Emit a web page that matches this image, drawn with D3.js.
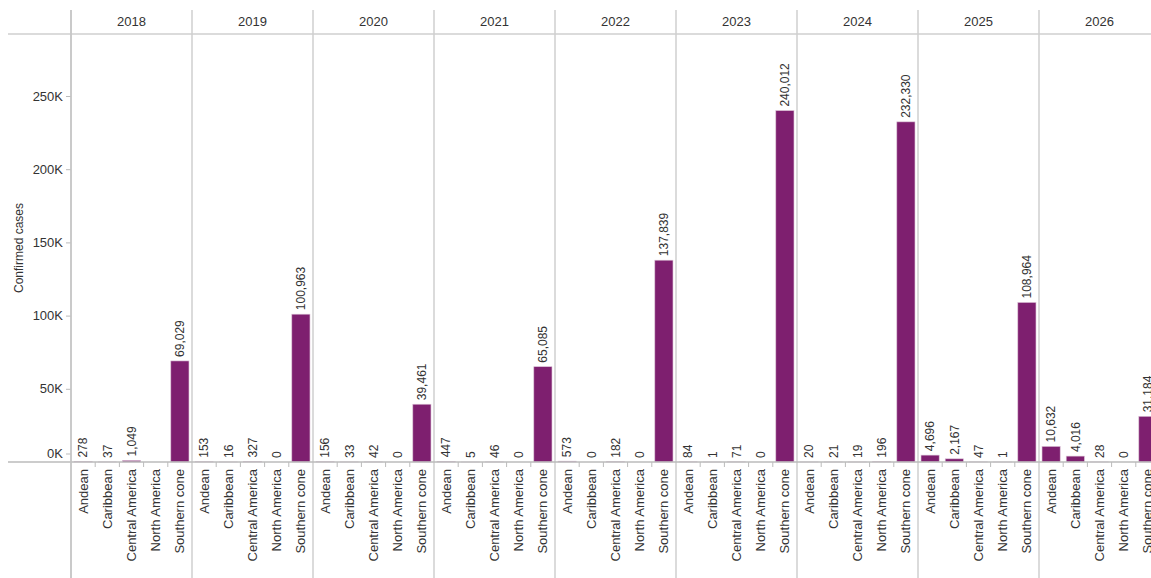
<!DOCTYPE html>
<html>
<head>
<meta charset="utf-8">
<script src="https://cdn.jsdelivr.net/npm/d3@7"></script>
<style>
  body { margin: 0; background: #fff; }
  text { font-family: Arial, "Liberation Sans", sans-serif; fill: #333; }
</style>
</head>
<body>
<script>
// chart data
var years = ["2018", "2019", "2020", "2021", "2022", "2023", "2024", "2025", "2026"];
var regions = ["Andean", "Caribbean", "Central America", "North America", "Southern cone"];

// one value per year, per region (null = no value shown)
var andean    = [278, 153, 156, 447, 573, 84, 20, 4696, 10632];
var caribbean = [37, 16, 33, 5, 0, 1, 21, 2167, 4016];
var central   = [1049, 327, 42, 46, 182, 71, 19, 47, 28];
var northAm   = [null, 0, 0, 0, 0, 0, 196, 1, 0];
var southern  = [69029, 100963, 39461, 65085, 137839, 240012, 232330, 108964, 31184];

var yTicks = [0, 50000, 100000, 150000, 200000, 250000];

var data = [];
years.forEach(function(yr, i) {
  [andean, caribbean, central, northAm, southern].forEach(function(s, j) {
    data.push({year: yr, region: regions[j], value: s[i]});
  });
});

var width = 1151, height = 578;
var headY = 34, base = 462;

var svg = d3.select("body").append("svg")
    .attr("width", width)
    .attr("height", height);

// scales
var x0 = d3.scaleBand().domain(years).range([71, 71 + 121 * years.length]).padding(0);
var x1 = d3.scaleBand().domain(regions).range([0, x0.bandwidth()]).paddingInner(0.25).paddingOuter(0.125);
var y = d3.scaleLinear().domain([0, 250000]).range([base, 96]);

var fmt = d3.format(",");

// grid / frame lines
svg.append("line")
    .attr("x1", 8).attr("x2", width).attr("y1", headY).attr("y2", headY)
    .style("stroke", "#cfcfcf").style("stroke-width", 1.5);

svg.selectAll(".divider")
    .data(years)
  .enter().append("line")
    .attr("class", "divider")
    .attr("x1", function(d) { return x0(d); })
    .attr("x2", function(d) { return x0(d); })
    .attr("y1", 10).attr("y2", height)
    .style("stroke", "#cfcfcf").style("stroke-width", 1.5);

// year headers
svg.selectAll(".yr")
    .data(years)
  .enter().append("text")
    .attr("class", "yr")
    .attr("x", function(d) { return x0(d) + x0.bandwidth() / 2; })
    .attr("y", 21)
    .attr("dy", ".35em")
    .attr("text-anchor", "middle")
    .style("font-size", "13px")
    .text(function(d) { return d; });

// y axis
var yAxis = svg.append("g")
    .attr("transform", "translate(71,0)")
    .call(d3.axisLeft(y).tickValues(yTicks).tickSize(5).tickPadding(3)
      .tickFormat(function(d) { return (d / 1000) + "K"; }));
yAxis.select(".domain").remove();
yAxis.selectAll("line").style("stroke", "#bbb");
yAxis.selectAll("text").style("font-size", "13px").style("font-family", "Arial, 'Liberation Sans', sans-serif").attr("fill", "#333");
// zero tick sits a little above the baseline
yAxis.selectAll(".tick").filter(function(d) { return d === 0; })
    .attr("transform", "translate(0," + (y(0) - 8) + ")");

svg.append("text")
    .attr("transform", "translate(19," + ((headY + base) / 2) + ") rotate(-90)")
    .attr("text-anchor", "middle")
    .attr("dy", ".35em")
    .style("font-size", "12px")
    .text("Confirmed cases");

// bars
var panel = svg.selectAll(".panel")
    .data(years)
  .enter().append("g")
    .attr("class", "panel")
    .attr("transform", function(d) { return "translate(" + x0(d) + ",0)"; });

panel.selectAll(".bar")
    .data(function(yr) { return data.filter(function(d) { return d.year == yr && d.value != null; }); })
  .enter().append("rect")
    .attr("class", "bar")
    .attr("x", function(d) { return x1(d.region); })
    .attr("width", x1.bandwidth())
    .attr("y", function(d) { return y(d.value); })
    .attr("height", function(d) { return base - y(d.value); })
    .style("fill", "#7e1f6f")
    .style("stroke", "#d9bfd4")
    .style("stroke-width", 0.6);

// value labels
panel.selectAll(".val")
    .data(function(yr) { return data.filter(function(d) { return d.year == yr && d.value != null; }); })
  .enter().append("text")
    .attr("class", "val")
    .attr("transform", function(d) {
      return "translate(" + (x1(d.region) + x1.bandwidth() / 2) + "," + (y(d.value) - 4) + ") rotate(-90)";
    })
    .attr("dy", ".35em")
    .attr("text-anchor", "start")
    .style("font-size", "12px")
    .text(function(d) { return fmt(d.value); });

// category ticks and labels
panel.selectAll(".ctick")
    .data(regions.slice(1))
  .enter().append("line")
    .attr("class", "ctick")
    .attr("x1", function(d) { return x1.step() * regions.indexOf(d); })
    .attr("x2", function(d) { return x1.step() * regions.indexOf(d); })
    .attr("y1", base).attr("y2", base + 5)
    .style("stroke", "#bbb");

panel.selectAll(".cat")
    .data(regions)
  .enter().append("text")
    .attr("class", "cat")
    .attr("transform", function(d) {
      return "translate(" + (x1(d) + x1.bandwidth() / 2) + "," + (base + 7) + ") rotate(-90)";
    })
    .attr("dy", ".35em")
    .attr("text-anchor", "end")
    .style("font-size", "13px")
    .text(function(d) { return d; });

// baseline and axis line
svg.append("line")
    .attr("x1", 8).attr("x2", width).attr("y1", base).attr("y2", base)
    .style("stroke", "#bbb").style("stroke-width", 1.5);
svg.append("line")
    .attr("x1", 71).attr("x2", 71).attr("y1", 10).attr("y2", height)
    .style("stroke", "#c4c4c4").style("stroke-width", 1.5);
</script>
</body>
</html>
